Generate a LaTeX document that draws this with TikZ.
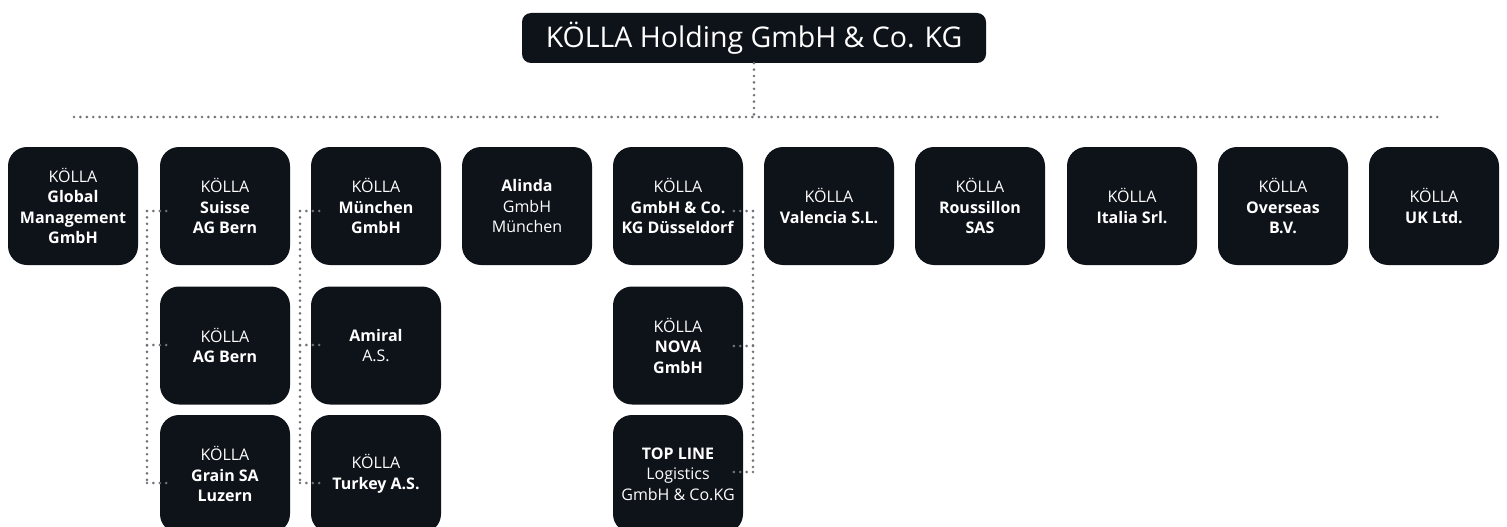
\documentclass[tikz,border=0pt]{standalone}
\usepackage{fontspec}
\setmainfont{Open Sans}
\usetikzlibrary{calc}
\definecolor{boxc}{HTML}{0E1219}
\definecolor{dotc}{HTML}{707379}
\begin{document}
\begin{tikzpicture}[x=1pt,y=-1pt,
  org/.style={fill=boxc, text=white, rounded corners=19pt, minimum width=130pt, minimum height=118pt, inner sep=0pt, align=center, font=\fontsize{16}{20.5}\selectfont},
  topbox/.style={fill=boxc, text=white, rounded corners=9pt, minimum width=464pt, minimum height=50pt, inner sep=0pt, font=\fontsize{28.5}{32}\selectfont},
  dotline/.style={draw=dotc, line width=2.9pt, line cap=round, dash pattern=on 0pt off 6.4pt}]
\useasboundingbox (0,0) rectangle (1507,527);
\clip (0,0) rectangle (1507,527);

\node[topbox] (top) at (754,38) {KÖLLA Holding GmbH \& Co. KG};
\coordinate (busL) at (74,117);
\coordinate (busR) at (1439,117);
\coordinate (busM) at (754,117);
\draw[dotline] (top.south) -- (busM);
\draw[dotline] (busL) -- (busR);

% row 1
\node[org] (b1) at (73,206) {KÖLLA\\\textbf{Global}\\\textbf{Management}\\\textbf{GmbH}};
\node[org] (b2) at (225,206) {KÖLLA\\\textbf{Suisse}\\\textbf{AG Bern}};
\node[org] (b3) at (376,206) {KÖLLA\\\textbf{München}\\\textbf{GmbH}};
\node[org] (b4) at (527,206) {\textbf{Alinda}\\GmbH\\München};
\node[org] (b5) at (678,206) {KÖLLA\\\textbf{GmbH \& Co.}\\\textbf{KG Düsseldorf}};
\node[org] (b6) at (829,206) {KÖLLA\\\textbf{Valencia S.L.}};
\node[org] (b7) at (980,206) {KÖLLA\\\textbf{Roussillon}\\\textbf{SAS}};
\node[org] (b8) at (1132,206) {KÖLLA\\\textbf{Italia Srl.}};
\node[org] (b9) at (1283,206) {KÖLLA\\\textbf{Overseas}\\\textbf{B.V.}};
\node[org] (b10) at (1434,206) {KÖLLA\\\textbf{UK Ltd.}};
% row 2
\node[org] (c2) at (225,345.5) {KÖLLA\\\textbf{AG Bern}};
\node[org] (c3) at (376,345.5) {\textbf{Amiral}\\A.S.};
\node[org] (c5) at (678,345.5) {KÖLLA\\\textbf{NOVA}\\\textbf{GmbH}};
% row 3
\node[org] (d2) at (225,474) {KÖLLA\\\textbf{Grain SA}\\\textbf{Luzern}};
\node[org] (d3) at (376,474) {KÖLLA\\\textbf{Turkey A.S.}};
\node[org] (d5) at (678,474) {\textbf{TOP LINE}\\Logistics\\GmbH \& Co.KG};

% column 2 connectors
\coordinate (s21) at (147,211);
\coordinate (s22) at (147,345);
\coordinate (s23) at (147,483);
\draw[dotline] (s21) -- (s23);
\draw[dotline] (s21) -- ($(s21 -| b2.west)+(10,0)$);
\draw[dotline] (s22) -- ($(s22 -| c2.west)+(10,0)$);
\draw[dotline] (s23) -- ($(s23 -| d2.west)+(10,0)$);
% column 3 connectors
\coordinate (s31) at (300,211);
\coordinate (s32) at (300,345);
\coordinate (s33) at (300,483);
\draw[dotline] (s31) -- (s33);
\draw[dotline] (s31) -- ($(s31 -| b3.west)+(10,0)$);
\draw[dotline] (s32) -- ($(s32 -| c3.west)+(10,0)$);
\draw[dotline] (s33) -- ($(s33 -| d3.west)+(10,0)$);
% column 5 connectors
\coordinate (s51) at (753,211);
\coordinate (s52) at (753,346);
\coordinate (s53) at (753,472);
\draw[dotline] (s51) -- (s53);
\draw[dotline] (s51) -- ($(s51 -| b5.east)+(-12,0)$);
\draw[dotline] (s52) -- ($(s52 -| c5.east)+(-10,0)$);
\draw[dotline] (s53) -- ($(s53 -| d5.east)+(-10,0)$);
\end{tikzpicture}
\end{document}
